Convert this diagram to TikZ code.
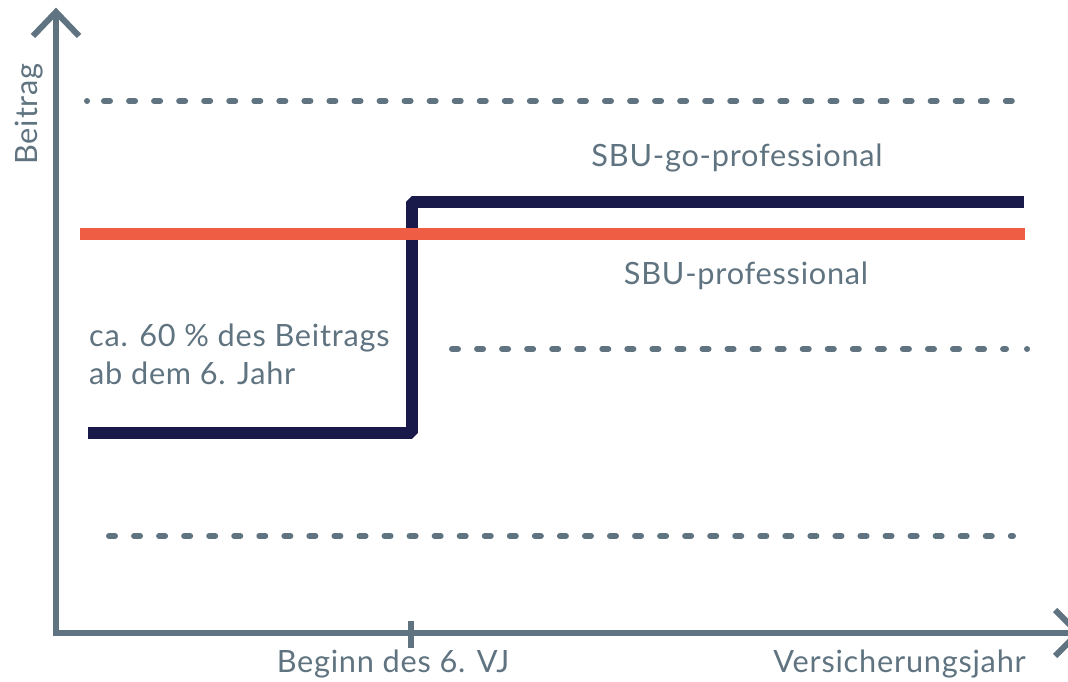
\documentclass[tikz,border=0pt]{standalone}
\usepackage{fontspec}
\setmainfont{Lato}[LetterSpace=2.5]
\definecolor{axisgray}{HTML}{5F7380}
\definecolor{navy}{HTML}{19194A}
\definecolor{orangered}{HTML}{F05D45}
\tikzset{
  axisline/.style={draw=axisgray, line width=6pt, line cap=butt, line join=miter},
  guide/.style={draw=axisgray, line width=6pt, line cap=round, dash pattern=on 6pt off 19.05pt},
  dotmark/.style={draw=axisgray, line width=6pt, line cap=round},
  stepline/.style={draw=navy, line width=12pt, line join=bevel},
  flatline/.style={draw=orangered, line width=12pt},
  lbl/.style={text=axisgray, inner sep=0pt, font=\fontsize{30.7}{38}\selectfont},
}
\begin{document}
\begin{tikzpicture}[x=1pt,y=-1pt]
\useasboundingbox (0,0) rectangle (1068,682);
\clip (0,0) rectangle (1068,682);
% axes
\coordinate (O) at (56,633);
\coordinate (ytop) at (56,12);
\coordinate (xend) at (1078,633);
\draw[axisline] (56,636) -- (ytop);
\draw[axisline] (33,36) -- (ytop) -- (79,36);
\draw[axisline] (53,633) -- (xend);
\draw[axisline] (1055,610) -- (xend) -- (1055,656);
\coordinate (tickt) at (410.5,621);
\coordinate (tickb) at (410.5,648);
\draw[axisline] (tickt) -- (tickb);
% guide lines
\coordinate (g1a) at (104,101);
\coordinate (g1b) at (1013,101);
\coordinate (g1dot) at (87,101);
\draw[guide] (g1a) -- (g1b);
\draw[dotmark] (g1dot) -- ++(0.01,0);
\coordinate (g2a) at (452,349);
\coordinate (g2b) at (1006,349);
\coordinate (g2dot) at (1027,349);
\draw[guide] (g2a) -- (g2b);
\draw[dotmark] (g2dot) -- ++(0.01,0);
\coordinate (g3a) at (109,536);
\coordinate (g3b) at (1013,536);
\draw[guide] (g3a) -- (g3b);
% step line
\coordinate (s0) at (88,433);
\coordinate (s1) at (412,433);
\coordinate (s2) at (412,202);
\coordinate (s3) at (1024,202);
\draw[stepline] (s0) -- (s1) -- (s2) -- (s3);
% flat line
\coordinate (f0) at (80,233.5);
\coordinate (f1) at (1025,233.5);
\draw[flatline] (f0) -- (f1);
% labels
\node[lbl, anchor=base] (go) at (737,167) {SBU-go-professional};
\node[lbl, anchor=base] (pro) at (746,284) {SBU-professional};
\node[lbl, anchor=base west, align=left] (note) at (89,384) {ca. 60 \% des Beitrags\\ab dem 6. Jahr};
\node[lbl, anchor=base] (begin) at (393,672) {Beginn des 6. VJ};
\node[lbl, anchor=base east] (xlab) at (1026,672) {Versicherungsjahr};
\node[lbl, anchor=base, rotate=90] (ylab) at (37,114) {Beitrag};
\end{tikzpicture}
\end{document}
